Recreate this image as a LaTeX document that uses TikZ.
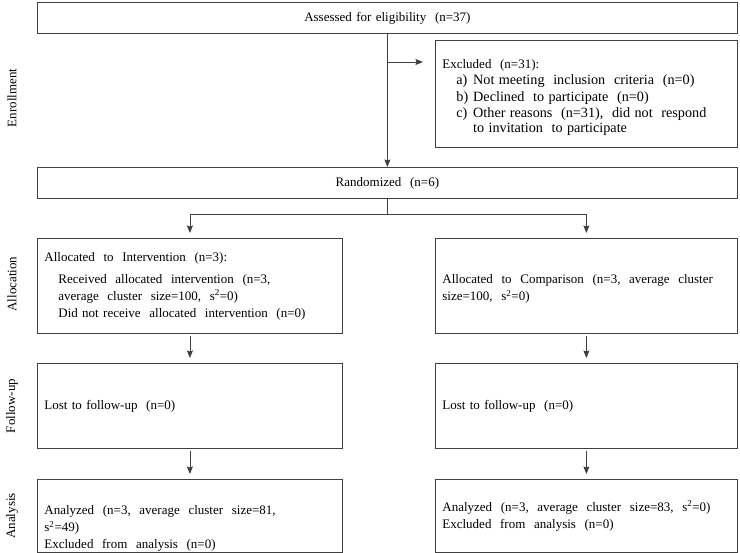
\documentclass[tikz,border=0pt]{standalone}
\usepackage{fontspec}
\setmainfont{Liberation Serif}
\usetikzlibrary{arrows.meta,positioning}

\begin{document}
\begin{tikzpicture}[->,>={Stealth[length=7.5pt,width=6pt,inset=1pt]},x=1pt,y=-1pt,line width=0.8pt,
                    font=\fontsize{13}{17}\selectfont,
                    every edge/.append style={draw=black!75}]
  \tikzstyle{box}=[draw=black!75,rectangle,anchor=north west,inner xsep=7pt,inner ysep=3pt]
  \tikzstyle{wide}=[box,text width=686pt,minimum height=31pt,align=center]
  \tikzstyle{left}=[box,text width=291pt,align=left]
  \tikzstyle{right}=[box,text width=288pt,align=left]
  \tikzstyle{stage}=[rotate=90,anchor=center]
  \tikzstyle{gap}=[shorten <=2pt,shorten >=5pt]

  \useasboundingbox (0,0) rectangle (740,553);

  % stages
  \node[stage] (enrol) at (12,98) {Enrollment};
  \node[stage] (alloc) at (12,284) {Allocation};
  \node[stage] (follow) at (12,406) {Follow-up};
  \node[stage] (anal) at (12,516) {Analysis};

  % enrollment
  \node[wide] (assess) at (37,2) {Assessed for eligibility\ \ (n=37)};
  \node[right,minimum height=107pt] (excl) at (435,40)
    {\rule{0pt}{18pt}Excluded\ \ (n=31):\\[1pt]
     \hspace*{14pt}{\fontsize{14.2}{16.5}\selectfont
     \begin{tabular}{@{}l@{\hspace{5pt}}l@{}}
       a) & Not meeting\ \ inclusion\ \ criteria\ \ (n=0)\\
       b) & Declined\ \ to participate\ \ (n=0)\\
       c) & Other reasons\ \ (n=31),\ \ did\ not\ \ respond\\[-1.5pt]
          & to\ invitation\ \ to\ participate
     \end{tabular}}};
  \node[wide] (rand) at (37,167) {Randomized\ \ (n=6)};

  % allocation
  \node[left,minimum height=95pt] (intL) at (37,238)
    {Allocated\ \ to\ \ Intervention\ \ (n=3):\\[5pt]
     \hspace*{14pt}Received\ \ allocated\ \ intervention\ \ (n=3,\\
     \hspace*{14pt}average\ \ cluster\ \ size=100,\ \ s\textsuperscript{2}=0)\\
     \hspace*{14pt}Did not receive\ \ allocated\ \ intervention\ \ (n=0)};
  \node[right,minimum height=95pt] (compR) at (435,238)
    {\rule{0pt}{15pt}Allocated\ \ to\ \ Comparison\ \ (n=3,\ \ average\ \ cluster\\
     size=100,\ \ s\textsuperscript{2}=0)};

  % follow-up
  \node[left,minimum height=85pt] (lostL) at (37,363) {Lost to follow-up\ \ (n=0)};
  \node[right,minimum height=85pt] (lostR) at (435,363) {Lost to follow-up\ \ (n=0)};

  % analysis
  \node[left,minimum height=73pt,inner ysep=0pt] (anaL) at (37,479)
    {\rule{0pt}{34.5pt}Analyzed\ \ (n=3,\ \ average\ \ cluster\ \ size=81,\\
     s\textsuperscript{2}=49)\\
     Excluded\ \ from\ \ analysis\ \ (n=0)};
  \node[right,minimum height=73pt] (anaR) at (435,479)
    {Analyzed\ \ (n=3,\ \ average\ \ cluster\ \ size=83,\ \ s\textsuperscript{2}=0)\\
     Excluded\ \ from\ \ analysis\ \ (n=0)};

  \coordinate (exclfork) at (assess.south |- 0,62);
  \coordinate (exclend) at (423,62);
  \coordinate (fork) at (rand.south |- 0,214);

  \path (assess) edge (rand)
        (exclfork) edge (exclend);
  \draw[-,draw=black!75] (rand) -- (fork);
  \draw[draw=black!75,shorten >=5pt] (fork) -| (intL);
  \draw[draw=black!75,shorten >=5pt] (fork) -| (compR);
  \path (intL) edge[gap] (lostL)
        (compR) edge[gap] (lostR)
        (lostL) edge[gap] (anaL)
        (lostR) edge[gap] (anaR);
\end{tikzpicture}
\end{document}
